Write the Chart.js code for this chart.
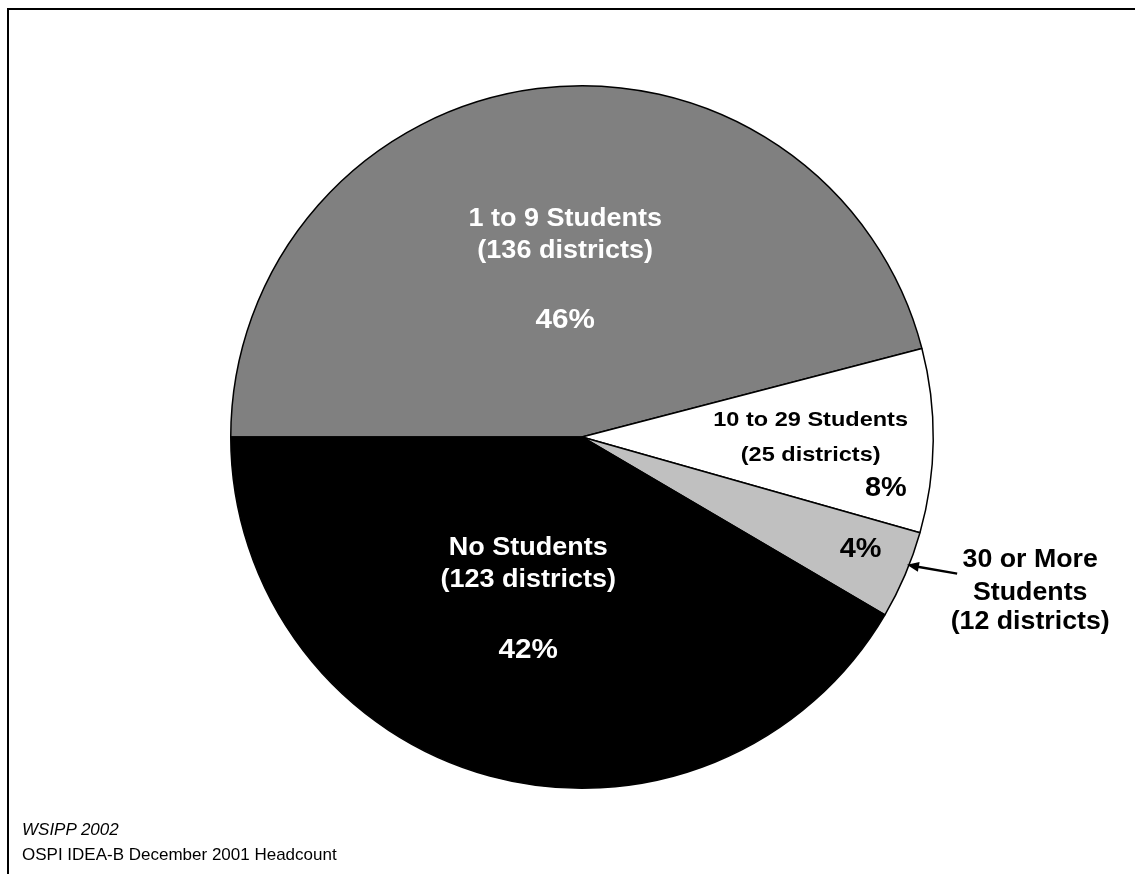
<!DOCTYPE html>
<html>
<head>
<meta charset="utf-8">
<script src="https://cdn.jsdelivr.net/npm/chart.js@4/dist/chart.umd.min.js"></script>
<style>
  body { margin: 0; background: #fff; }
  #wrap { position: relative; width: 1135px; height: 874px; }
  .note { position: absolute; left: 22px; font-family: "Liberation Sans", Arial, sans-serif; font-size: 17px; color: #000; white-space: nowrap; }
</style>
</head>
<body>
<div id="wrap">
  <canvas id="pie" width="1135" height="874"></canvas>
  <div class="note" style="top:820px;font-style:italic">WSIPP 2002</div>
  <div class="note" style="top:845px">OSPI IDEA-B December 2001 Headcount</div>
</div>
<script>
// data
const categories = ['1 to 9 Students', '10 to 29 Students', '30 or More Students', 'No Students'];
const districts = [136, 25, 12, 123];
const sliceColors = ['#808080', '#ffffff', '#c0c0c0', '#000000'];

const total = districts.reduce((a, b) => a + b, 0);
const pct = districts.map(v => Math.round(v / total * 100) + '%');

const FONT = '"Liberation Sans", Arial, sans-serif';

// label lines per slice: offsets are in units of the pie radius from its centre
const sliceLabels = [
  { color: '#fff', lines: [
    { t: '1 to 9 Students', dx: -0.048, dy: -0.602, size: 25, sx: 1.08 },
    { t: '(136 districts)', dx: -0.048, dy: -0.511, size: 25, sx: 1.08 },
    { t: pct[0], dx: -0.048, dy: -0.310, size: 28, sx: 1.06 },
  ]},
  { color: '#000', lines: [
    { t: '10 to 29 Students', dx: 0.651, dy: -0.031, size: 21, sx: 1.12 },
    { t: '(25 districts)', dx: 0.651, dy: 0.068, size: 21, sx: 1.12 },
    { t: pct[1], dx: 0.865, dy: 0.168, size: 27, sx: 1.07 },
  ]},
  { color: '#000', lines: [
    { t: pct[2], dx: 0.793, dy: 0.341, size: 27, sx: 1.07 },
    { t: '30 or More', dx: 1.276, dy: 0.369, size: 25, sx: 1.07 },
    { t: 'Students', dx: 1.276, dy: 0.463, size: 25, sx: 1.07 },
    { t: '(12 districts)', dx: 1.276, dy: 0.548, size: 25, sx: 1.07 },
  ], arrow: { from: [1.068, 0.389], to: [0.925, 0.364] } },
  { color: '#fff', lines: [
    { t: 'No Students', dx: -0.153, dy: 0.335, size: 25, sx: 1.08 },
    { t: '(123 districts)', dx: -0.153, dy: 0.426, size: 25, sx: 1.08 },
    { t: pct[3], dx: -0.153, dy: 0.628, size: 28, sx: 1.06 },
  ]},
];

const framePlugin = {
  id: 'frame',
  beforeDraw(chart) {
    const ctx = chart.ctx;
    ctx.save();
    ctx.strokeStyle = '#000';
    ctx.lineWidth = 2;
    ctx.beginPath();
    ctx.moveTo(8, 874);
    ctx.lineTo(8, 9);
    ctx.lineTo(1135, 9);
    ctx.stroke();
    ctx.restore();
  }
};

const labelPlugin = {
  id: 'sliceLabels',
  afterDatasetsDraw(chart) {
    const ctx = chart.ctx;
    const arcs = chart.getDatasetMeta(0).data;
    ctx.save();
    ctx.textAlign = 'center';
    ctx.textBaseline = 'alphabetic';
    arcs.forEach((arc, i) => {
      const cfg = sliceLabels[i];
      if (!cfg) return;
      const R = arc.outerRadius;
      ctx.fillStyle = cfg.color;
      cfg.lines.forEach(l => {
        ctx.save();
        ctx.translate(arc.x + l.dx * R, arc.y + l.dy * R);
        ctx.scale(l.sx, 1);
        ctx.font = `bold ${l.size}px ${FONT}`;
        ctx.fillText(l.t, 0, 0);
        ctx.restore();
      });
      if (cfg.arrow) {
        const x1 = arc.x + cfg.arrow.from[0] * R, y1 = arc.y + cfg.arrow.from[1] * R;
        const x2 = arc.x + cfg.arrow.to[0] * R, y2 = arc.y + cfg.arrow.to[1] * R;
        const a = Math.atan2(y2 - y1, x2 - x1);
        ctx.strokeStyle = '#000';
        ctx.fillStyle = '#000';
        ctx.lineWidth = 2.5;
        ctx.beginPath();
        ctx.moveTo(x1, y1);
        ctx.lineTo(x2 - 8 * Math.cos(a), y2 - 8 * Math.sin(a));
        ctx.stroke();
        ctx.beginPath();
        ctx.moveTo(x2, y2);
        ctx.lineTo(x2 - 12 * Math.cos(a) + 5 * Math.sin(a), y2 - 12 * Math.sin(a) - 5 * Math.cos(a));
        ctx.lineTo(x2 - 12 * Math.cos(a) - 5 * Math.sin(a), y2 - 12 * Math.sin(a) + 5 * Math.cos(a));
        ctx.closePath();
        ctx.fill();
      }
    });
    ctx.restore();
  }
};

new Chart(document.getElementById('pie').getContext('2d'), {
  type: 'pie',
  data: {
    labels: categories,
    datasets: [{
      data: districts,
      backgroundColor: sliceColors,
      borderColor: '#000',
      borderWidth: 1.5,
      hoverOffset: 0,
    }]
  },
  options: {
    responsive: false,
    animation: false,
    rotation: -90,
    layout: { padding: { top: 85, bottom: 85, left: 230, right: 201 } },
    plugins: {
      legend: { display: false },
      tooltip: { enabled: false },
      title: { display: false },
    }
  },
  plugins: [framePlugin, labelPlugin]
});
</script>
</body>
</html>
